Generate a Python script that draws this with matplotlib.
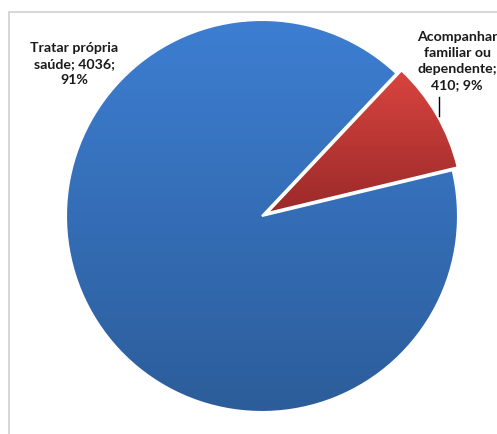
import matplotlib
matplotlib.use('Agg')
import matplotlib.pyplot as plt
import numpy as np
from matplotlib.colors import LinearSegmentedColormap
from matplotlib.patches import Rectangle
from matplotlib.lines import Line2D

# dados
categorias = ['Acompanhar familiar ou dependente', 'Tratar própria saúde']
valores = [410, 4036]
rotulos = ['Acompanhar\nfamiliar ou\ndependente;\n410; 9%', 'Tratar própria\nsaúde; 4036;\n91%']
explode = [0.03, 0.0]
cores = [('#d9443f', '#9a2a29'), ('#3d7ed2', '#2c5d9a')]

W, H = 497, 434
fig = plt.figure(figsize=(W / 100, H / 100), dpi=100)

# moldura do grafico (cortada a direita/baixo)
fig.patches.append(Rectangle((9 / W, -0.1), 1.2, 1 - 12 / H + 0.1, transform=fig.transFigure,
                             fill=False, edgecolor='#d0d0d0', linewidth=1.2))

cx, cy, r = 262, 216, 196
half = 200
ax = fig.add_axes([(cx - half) / W, (H - cy - half) / H, 2 * half / W, 2 * half / H])
lim = half / r
ax.set_aspect('equal')
ax.axis('off')

wedges, _ = ax.pie(valores, explode=explode, startangle=13.5, counterclock=True, radius=1,
                   wedgeprops=dict(edgecolor='white', linewidth=1.5))

for w, (c1, c2) in zip(wedges, cores):
    cmap = LinearSegmentedColormap.from_list('g', [c2, c1])
    bb = w.get_path().get_extents()
    grad = np.linspace(0, 1, 256).reshape(-1, 1)
    im = ax.imshow(grad, cmap=cmap, origin='lower', aspect='auto',
                   extent=[bb.x0, bb.x1, bb.y0, bb.y1], zorder=1)
    im.set_clip_path(w)
    w.set_facecolor('none')
    w.set_zorder(2)

ax.set_xlim(-lim, lim)
ax.set_ylim(-lim, lim)

fonte = dict(family=['Lato', 'DejaVu Sans'], fontsize=10.2, fontweight='bold', color='#1a1a1a',
             ha='center', va='center', linespacing=1.42)
fig.text(74 / W, 1 - 64 / H, rotulos[1], **fonte)
fig.text(457 / W, 1 - 61 / H, rotulos[0], **fonte)

fig.lines.append(Line2D([439 / W, 439 / W], [1 - 97 / H, 1 - 116 / H], transform=fig.transFigure,
                        color='black', linewidth=1))

fig.savefig('out.png', dpi=100)
